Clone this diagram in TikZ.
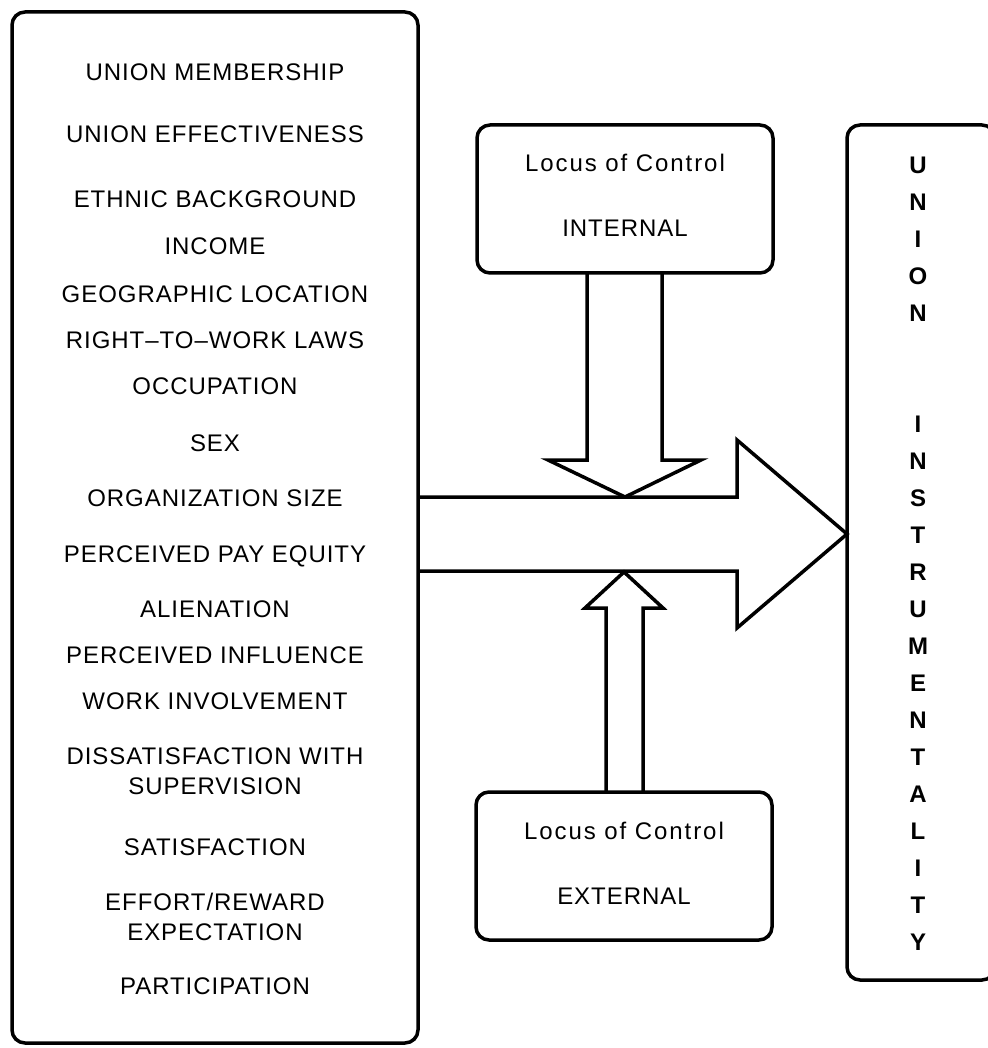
\documentclass[tikz,border=0pt]{standalone}
\usepackage{fontspec}
\newfontfamily\labfont{Liberation Sans}[LetterSpace=4]
\newfontfamily\locfont{Liberation Sans}[LetterSpace=8]
\newfontfamily\vertfont{Liberation Sans}[BoldFont={Liberation Sans Bold}]
\usetikzlibrary{calc}
\begin{document}
\begin{tikzpicture}[x=1pt,y=-1pt,
  box/.style={draw, line width=3.5pt, rounded corners=13pt, inner sep=0pt, outer sep=0pt},
  lab/.style={inner sep=0pt, font=\labfont\fontsize{24}{29.5}\selectfont, align=center, anchor=base},
  loc/.style={inner sep=0pt, font=\locfont\fontsize{24}{30}\selectfont, anchor=base},
  vl/.style={inner sep=0pt, font=\vertfont\bfseries\fontsize{24}{28}\selectfont, anchor=base},
  blockarrow/.style={draw, line width=3.5pt, line join=miter}]
\useasboundingbox (0,0) rectangle (987,1048);
% boxes
\node[box, minimum width=406pt, minimum height=1031pt] (left) at (215,527.5) {};
\node[box, minimum width=296pt, minimum height=148pt] (intl) at (625,199) {};
\node[box, minimum width=296pt, minimum height=148pt] (extl) at (624,866) {};
\node[box, minimum width=148pt, minimum height=855pt] (right) at (921,552.5) {};
% big arrow
\coordinate (bs1) at (left.east |- 0,497);
\coordinate (bs2) at (left.east |- 0,571);
\draw[blockarrow] (bs1) -- (737,497) -- (737,440) -- (right.west |- 0,534) -- (737,628) -- (737,571) -- (bs2);
% down arrow from internal
\draw[blockarrow] ($(intl.south)+(-38,0)$) -- (587,460) -- (548,460) -- (625,497) -- (701,460) -- (662,460) -- ($(intl.south)+(37,0)$);
% up arrow from external
\draw[blockarrow] ($(extl.north)+(-18,0)$) -- (606,608) -- (585,608) -- (624,572) -- (663,608) -- (643,608) -- ($(extl.north)+(19,0)$);
% left labels (baselines of last line)
\node[lab] (l1) at (215,81) {UNION MEMBERSHIP};
\node[lab] (l2) at (215,143) {UNION EFFECTIVENESS};
\node[lab] (l3) at (215,208) {ETHNIC BACKGROUND};
\node[lab] (l4) at (215,255) {INCOME};
\node[lab] (l5) at (215,302) {GEOGRAPHIC LOCATION};
\node[lab] (l6) at (215,348) {RIGHT{\kern1pt–\kern1pt}TO{\kern1pt–\kern1pt}WORK LAWS};
\node[lab] (l7) at (215,394) {OCCUPATION};
\node[lab] (l8) at (215,451) {SEX};
\node[lab] (l9) at (215,506) {ORGANIZATION SIZE};
\node[lab] (l10) at (215,562) {PERCEIVED PAY EQUITY};
\node[lab] (l11) at (215,617) {ALIENATION};
\node[lab] (l12) at (215,663) {PERCEIVED INFLUENCE};
\node[lab] (l13) at (215,709) {WORK INVOLVEMENT};
\node[lab] (l14) at (215,794) {DISSATISFACTION WITH\\SUPERVISION};
\node[lab] (l15) at (215,855) {SATISFACTION};
\node[lab] (l16) at (215,940) {EFFORT/REWARD\\EXPECTATION};
\node[lab] (l17) at (215,994) {PARTICIPATION};
% locus labels
\node[loc] (i1) at (625,172) {Locus of Control};
\node[lab] (i2) at (625,237) {INTERNAL};
\node[loc] (e1) at (624,839) {Locus of Control};
\node[lab] (e2) at (624,904) {EXTERNAL};
% vertical letters
\foreach \ch [count=\i] in {U,N,I,O,N} {
  \node[vl] (u\i) at (918,{165+8.5+(\i-1)*37}) {\ch};
}
\foreach \ch [count=\i] in {I,N,S,T,R,U,M,E,N,T,A,L,I,T,Y} {
  \node[vl] (s\i) at (918,{424+8.5+(\i-1)*37}) {\ch};
}
\end{tikzpicture}
\end{document}
